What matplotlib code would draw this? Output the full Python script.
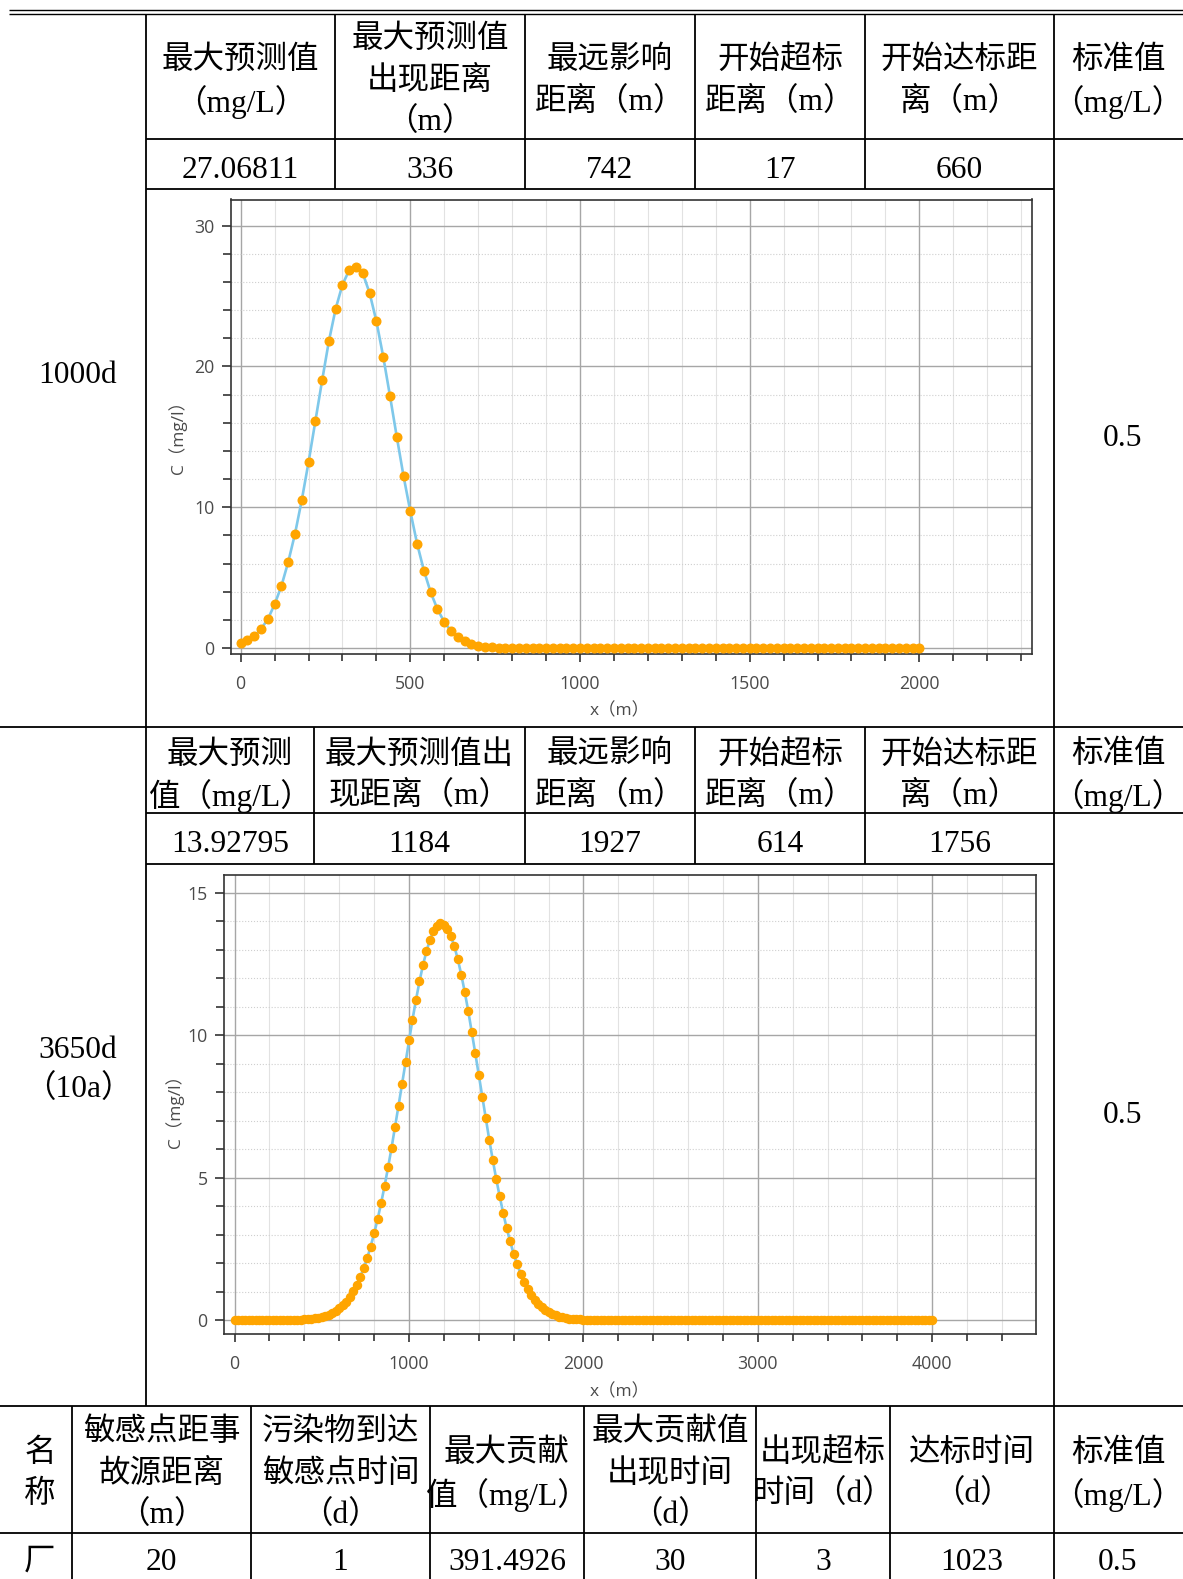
import numpy as np
import matplotlib.pyplot as plt
from matplotlib.ticker import MultipleLocator

# ---- table text ----
hdr_1000d = ["最大预测值\n（mg/L）", "最大预测值\n出现距离\n（m）", "最远影响\n距离（m）",
             "开始超标\n距离（m）", "开始达标距\n离（m）", "标准值\n（mg/L）"]
val_1000d = ["27.06811", "336", "742", "17", "660"]
hdr_3650d = ["最大预测\n值（mg/L）", "最大预测值出\n现距离（m）", "最远影响\n距离（m）",
             "开始超标\n距离（m）", "开始达标距\n离（m）", "标准值\n（mg/L）"]
val_3650d = ["13.92795", "1184", "1927", "614", "1756"]
periods = ["1000d", "3650d\n（10a）"]
std_value = "0.5"
hdr_point = ["名\n称", "敏感点距事\n故源距离\n（m）", "污染物到达\n敏感点时间\n（d）",
             "最大贡献\n值（mg/L）", "最大贡献值\n出现时间\n（d）", "出现超标\n时间（d）",
             "达标时间\n（d）", "标准值\n（mg/L）"]
val_point = ["厂", "20", "1", "391.4926", "30", "3", "1023", "0.5"]

# ---- concentration profiles (every 20 m) ----
x_1000d = np.arange(0, 2001, 20)
c_1000d = [0.37, 0.55, 0.84, 1.35, 2.05, 3.1, 4.4, 6.1, 8.1, 10.5,
           13.2, 16.1, 19.0, 21.8, 24.1, 25.8, 26.85, 27.06, 26.6, 25.2,
           23.2, 20.7, 17.9, 15.0, 12.2, 9.7, 7.4, 5.5, 3.95, 2.75,
           1.85, 1.2, 0.75, 0.48, 0.28, 0.16, 0.09, 0.05, 0.03, 0.015,
           0.007, 0.003, 0.001, 0, 0, 0, 0, 0, 0, 0,
           0, 0, 0, 0, 0, 0, 0, 0, 0, 0,
           0, 0, 0, 0, 0, 0, 0, 0, 0, 0,
           0, 0, 0, 0, 0, 0, 0, 0, 0, 0,
           0, 0, 0, 0, 0, 0, 0, 0, 0, 0,
           0, 0, 0, 0, 0, 0, 0, 0, 0, 0,
           0]

x_3650d = np.arange(0, 4001, 20)
c_3650d = [0, 0, 0, 0, 0, 0, 0, 0, 0, 0,
           0, 0, 0.001, 0.002, 0.003, 0.004, 0.006, 0.009, 0.012, 0.018,
           0.024, 0.034, 0.046, 0.062, 0.083, 0.11, 0.146, 0.19, 0.25, 0.32,
           0.41, 0.52, 0.65, 0.82, 1.01, 1.23, 1.50, 1.82, 2.17, 2.58,
           3.04, 3.54, 4.10, 4.71, 5.36, 6.05, 6.78, 7.53, 8.29, 9.06,
           9.82, 10.55, 11.24, 11.89, 12.46, 12.95, 13.35, 13.65, 13.85, 13.93,
           13.89, 13.74, 13.49, 13.12, 12.67, 12.12, 11.51, 10.84, 10.11, 9.37,
           8.61, 7.83, 7.08, 6.34, 5.63, 4.96, 4.34, 3.76, 3.23, 2.76,
           2.33, 1.96, 1.63, 1.34, 1.10, 0.89, 0.71, 0.57, 0.45, 0.355,
           0.276, 0.213, 0.163, 0.124, 0.093, 0.070, 0.052, 0.038, 0.028, 0.020,
           0.014, 0.010, 0.007, 0.005, 0.003, 0.002, 0.001, 0, 0, 0,
           0, 0, 0, 0, 0, 0, 0, 0, 0, 0,
           0, 0, 0, 0, 0, 0, 0, 0, 0, 0,
           0, 0, 0, 0, 0, 0, 0, 0, 0, 0,
           0, 0, 0, 0, 0, 0, 0, 0, 0, 0,
           0, 0, 0, 0, 0, 0, 0, 0, 0, 0,
           0, 0, 0, 0, 0, 0, 0, 0, 0, 0,
           0, 0, 0, 0, 0, 0, 0, 0, 0, 0,
           0, 0, 0, 0, 0, 0, 0, 0, 0, 0,
           0, 0, 0, 0, 0, 0, 0, 0, 0, 0,
           0]

W, H = 1183, 1579
fig = plt.figure(figsize=(W / 100, H / 100), dpi=100)

# page-sized axes in pixel units for the table grid
tab = fig.add_axes([0, 0, 1, 1])
tab.set_xlim(0, W)
tab.set_ylim(H, 0)
tab.axis('off')

TXT = dict(family=['Liberation Serif', 'Noto Sans CJK SC'], fontsize=22.7, color='black')
SANS = ['Open Sans', 'Noto Sans CJK SC']


def hline(y, x0, x1, lw=1.3):
    tab.plot([x0, x1], [y, y], color='black', lw=lw, solid_capstyle='butt')


def vline(x, y0, y1, lw=1.3):
    tab.plot([x, x], [y0, y1], color='black', lw=lw, solid_capstyle='butt')


def cell(xc, yc, text, step=41.5):
    lines = text.split('\n')
    n = len(lines)
    for i, s in enumerate(lines):
        tab.text(xc, yc + 4 + (i - (n - 1) / 2) * step, s,
                 ha='center', va='center', **TXT)


# grid lines
hline(10.3, 9, W, lw=1.0)
hline(13.5, 9, W, lw=1.0)
vline(146, 13.5, 1406)
for x in [335, 525, 695, 865]:
    vline(x, 13.5, 189)
vline(1054, 13.5, 727)
hline(139, 146, W)
hline(189, 146, 1054)
hline(727, 0, W)
for x in [314, 525, 695, 865]:
    vline(x, 727, 864)
vline(1054, 727, 1406)
hline(813, 146, W)
hline(864, 146, 1054)
hline(1406, 0, W)
for x in [72, 251, 430, 584, 756, 890, 1054]:
    vline(x, 1406, H)
hline(1533, 0, W)

# block 1: 1000d
for xc, t in zip([240.5, 430, 610, 780, 959.5, 1118], hdr_1000d):
    cell(xc, 77, t)
for xc, t in zip([240.5, 430, 610, 780, 959.5], val_1000d):
    cell(xc, 166, t)
cell(78, 371.5, periods[0])
cell(1123, 435, std_value)

# block 2: 3650d
for xc, t in zip([230, 419.5, 610, 780, 959.5, 1118], hdr_3650d):
    cell(xc, 771.5, t)
for xc, t in zip([230, 419.5, 610, 780, 959.5], val_3650d):
    cell(xc, 840, t)
cell(78, 1066.5, periods[1], step=39)
cell(1123, 1111.5, std_value)

# sensitive point table
pt_x = [40, 161.5, 340.5, 507, 670, 823, 972, 1118]
for xc, t in zip(pt_x, hdr_point):
    cell(xc, 1470, t)
for xc, t in zip(pt_x, val_point):
    cell(xc, 1558.5, t)


def rect(l, t, r, b):
    return [l / W, 1 - b / H, (r - l) / W, (b - t) / H]


def profile(ax, x, c, xlim, ylim, xmaj, xmin, ymaj, ymin, ms, xlab_pos, ylab_pos):
    ax.plot(x, c, color='#7EC8EA', lw=1.9, zorder=3)
    ax.plot(x, c, 'o', color='#FFA500', ms=ms, mec='#FFA500', zorder=4)
    ax.set_xlim(*xlim)
    ax.set_ylim(*ylim)
    ax.xaxis.set_major_locator(MultipleLocator(xmaj))
    ax.xaxis.set_minor_locator(MultipleLocator(xmin))
    ax.yaxis.set_major_locator(MultipleLocator(ymaj))
    ax.yaxis.set_minor_locator(MultipleLocator(ymin))
    ax.grid(which='major', color='#a6a6a6', lw=1.0, zorder=1)
    ax.grid(which='minor', axis='x', color='#e2e2e2', lw=0.8, zorder=1)
    ax.grid(which='minor', axis='y', color='#cfcfcf', lw=0.8, ls=':', zorder=1)
    ax.set_axisbelow(True)
    for sp in ax.spines.values():
        sp.set_color('#333333')
        sp.set_linewidth(1.2)
    ax.tick_params(axis='x', which='major', length=6, width=1.2, pad=9,
                   colors='#333333', labelcolor='#4a4a4a', labelsize=12.8)
    ax.tick_params(axis='x', which='minor', length=5, width=1.2, colors='#333333')
    ax.tick_params(axis='y', which='major', length=6.5, width=1.2, pad=5,
                   colors='#333333', labelcolor='#4a4a4a', labelsize=12.8)
    ax.tick_params(axis='y', which='minor', length=6, width=1.2, colors='#333333')
    for lab in ax.get_xticklabels() + ax.get_yticklabels():
        lab.set_family('Open Sans')
    ax.set_xlabel('x（m）', family=SANS, fontsize=12.5, color='#4a4a4a')
    ax.set_ylabel('C（mg/l）', family=SANS, fontsize=12.5, color='#4a4a4a')
    ax.xaxis.label.set_va('center')
    ax.yaxis.label.set_va('center')
    ax.xaxis.set_label_coords(*xlab_pos)
    ax.yaxis.set_label_coords(*ylab_pos)


ax1 = fig.add_axes(rect(230.5, 199.5, 1032, 653.8))
profile(ax1, x_1000d, c_1000d, (-30, 2332), (-0.41, 31.85), 500, 100, 10, 2, 6.2,
        (0.485, -0.127), (-0.0655, 0.486))

ax2 = fig.add_axes(rect(223.6, 874.7, 1036, 1334))
profile(ax2, x_3650d, c_3650d, (-63, 4595), (-0.49, 15.64), 1000, 200, 5, 1, 5.8,
        (0.487, -0.126), (-0.0598, 0.494))

fig.savefig('out.png', dpi=100, facecolor='white')
